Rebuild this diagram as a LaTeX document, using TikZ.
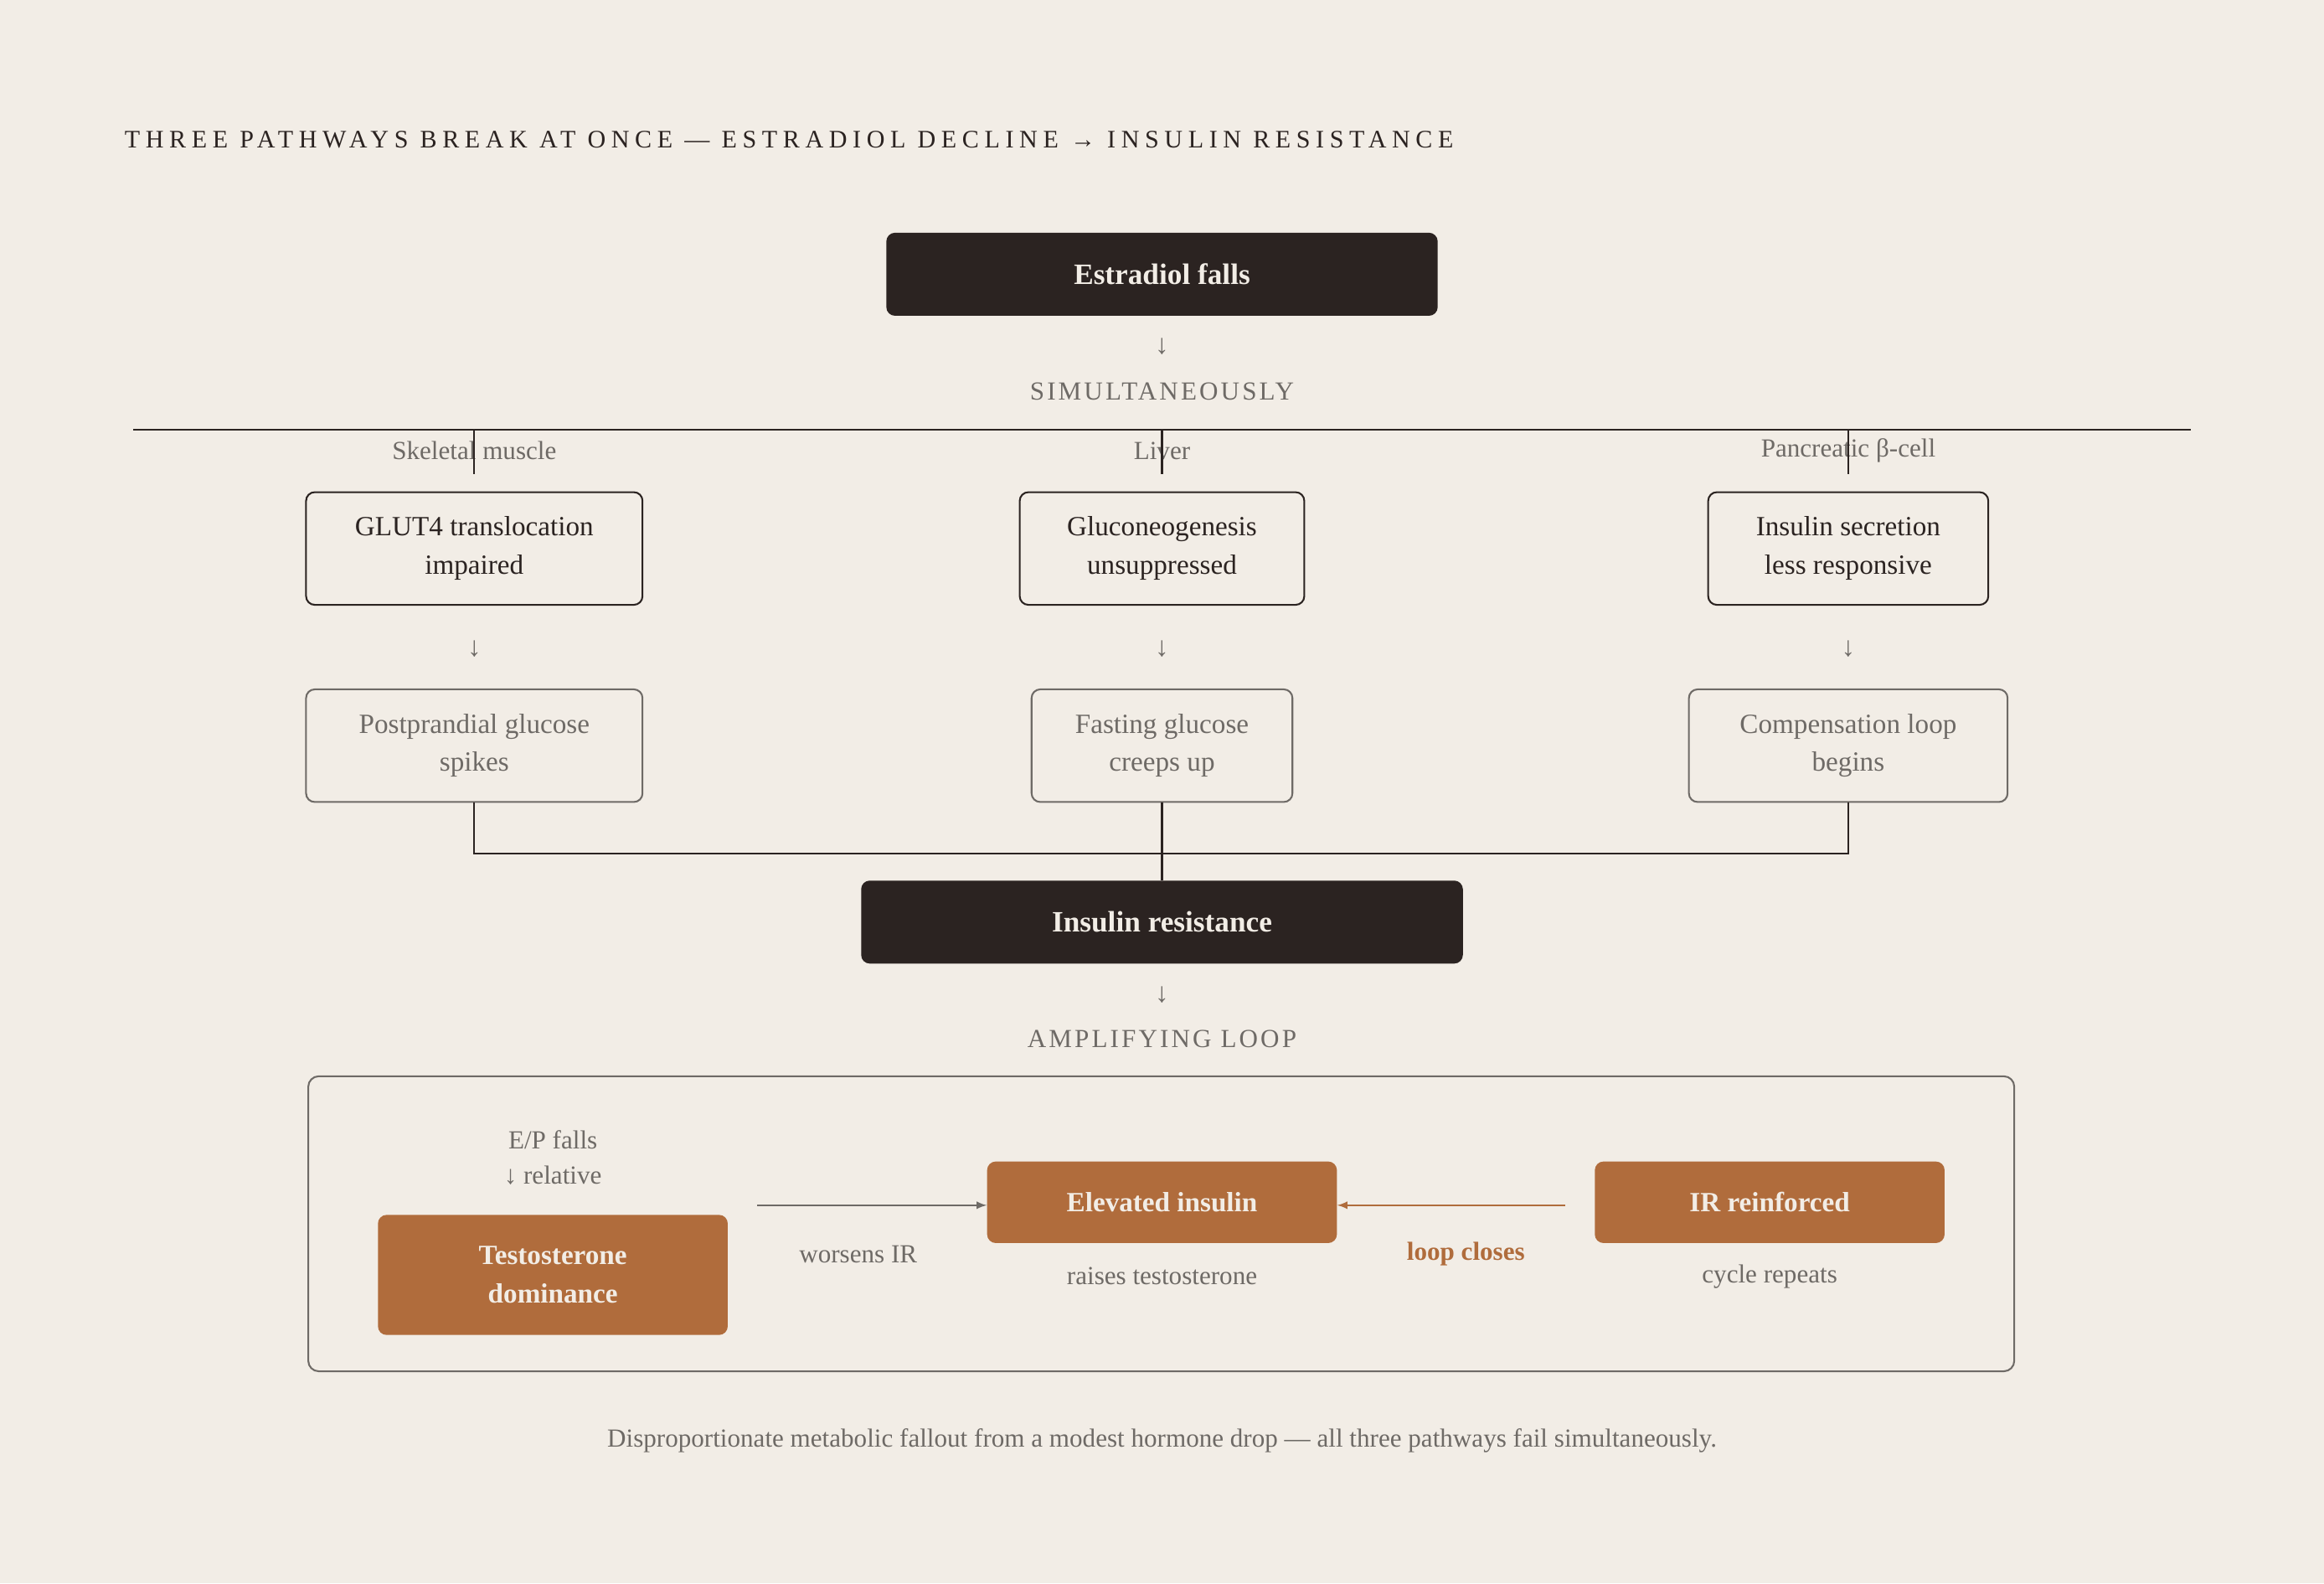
\documentclass[tikz,border=0pt]{standalone}
\usepackage{fontspec}
\setmainfont{Liberation Serif}
\usetikzlibrary{positioning}
\definecolor{paper}{HTML}{F2EDE6}
\definecolor{ink}{HTML}{2B2321}
\definecolor{rust}{HTML}{B06C3C}
\definecolor{mute}{HTML}{6E6A66}
\tikzset{
  dark/.style={fill=ink, text=paper, rounded corners=5pt, font=\fontsize{17}{20}\selectfont\bfseries, minimum height=56*0.03cm},
  pathbox/.style={draw=ink, line width=1pt, rounded corners=5pt, align=center, font=\fontsize{16}{22}\selectfont, text=ink, minimum height=76*0.03cm},
  resultbox/.style={pathbox, draw=mute, text=mute},
  rustbox/.style={fill=rust, text=paper, rounded corners=5pt, align=center, font=\fontsize{16}{22}\selectfont\bfseries},
  spaced/.style={text=mute, font=\fontsize{15}{18}\selectfont\addfontfeature{LetterSpace=10}},
  note/.style={text=mute, font=\fontsize{15}{20}\selectfont, align=center},
  down/.style={text=mute, font=\fontsize{16}{18}\selectfont}
}
\begin{document}
\begin{tikzpicture}[x=0.03cm, y=-0.03cm]
\fill[paper] (0,0) rectangle (1568,1068);
\useasboundingbox (0,0) rectangle (1568,1068);

% title
\node[anchor=west, text=ink, font=\fontsize{14.5}{18}\selectfont\addfontfeature{LetterSpace=22}] (title) at (80,94) {THREE PATHWAYS BREAK AT ONCE — ESTRADIOL DECLINE → INSULIN RESISTANCE};

% top
\node[dark, minimum width=372*0.03cm] (estr) at (784,185) {Estradiol falls};
\node[down] (a0) at (784,234) {↓};
\node[spaced] (simul) at (784,264) {SIMULTANEOUSLY};
\draw[ink, line width=1pt] (90,290) coordinate (l0) -- (1478,290) coordinate (l1);

% pathways
\foreach \n/\x/\site/\w/\ww/\txa/\txb in {
  m/320/Skeletal muscle/227/227/{GLUT4 translocation\\impaired}/{Postprandial glucose\\spikes},
  l/784/Liver/192/176/{Gluconeogenesis\\unsuppressed}/{Fasting glucose\\creeps up},
  p/1247/Pancreatic β-cell/189/215/{Insulin secretion\\less responsive}/{Compensation loop\\begins}}
{
  \node[note] (site\n) at (\x,304) {\site};
  \draw[ink, line width=1pt] (\x,290) -- (\x,320);
  \node[pathbox, minimum width=\w*0.03cm] (top\n) at (\x,370) {\txa};
  \node[down] (arr\n) at (\x,438) {↓};
  \node[resultbox, minimum width=\ww*0.03cm] (bot\n) at (\x,503) {\txb};
}

\node[dark, minimum width=406*0.03cm] (ir) at (784,622) {Insulin resistance};
\draw[ink, line width=1pt] (botm.south) |- (784,576) -| (botp.south);
\draw[ink, line width=1pt] (botl.south) -- (ir.north);

\node[down] (a1) at (784,671) {↓};
\node[spaced] (amp) at (784,701) {AMPLIFYING LOOP};

% loop
\draw[mute, line width=1pt, rounded corners=6pt] (208,726) rectangle (1359,925);
\node[note] (ep) at (373,781) {E/P falls\\↓ relative};
\node[rustbox, minimum width=236*0.03cm, minimum height=81*0.03cm] (testo) at (373,860) {Testosterone\\dominance};
\node[rustbox, minimum width=236*0.03cm, minimum height=55*0.03cm] (elev) at (784,811) {Elevated insulin};
\node[rustbox, minimum width=236*0.03cm, minimum height=55*0.03cm] (irr) at (1194,811) {IR reinforced};
\node[note] (raise) at (784,861) {raises testosterone};
\node[note] (cyc) at (1194,861) {cycle repeats};
\coordinate (w0) at (511,813);
\draw[mute, line width=1pt, -latex] (w0) -- (elev.west |- w0);
\node[note] (worse) at (579,846) {worsens IR};
\coordinate (c0) at (1056,813);
\draw[rust, line width=1pt, -latex] (c0) -- (elev.east |- c0);
\node[text=rust, font=\fontsize{15}{18}\selectfont\bfseries] (closes) at (989,846) {loop closes};

\node[note] (foot) at (784,972) {Disproportionate metabolic fallout from a modest hormone drop — all three pathways fail simultaneously.};
\end{tikzpicture}
\end{document}
